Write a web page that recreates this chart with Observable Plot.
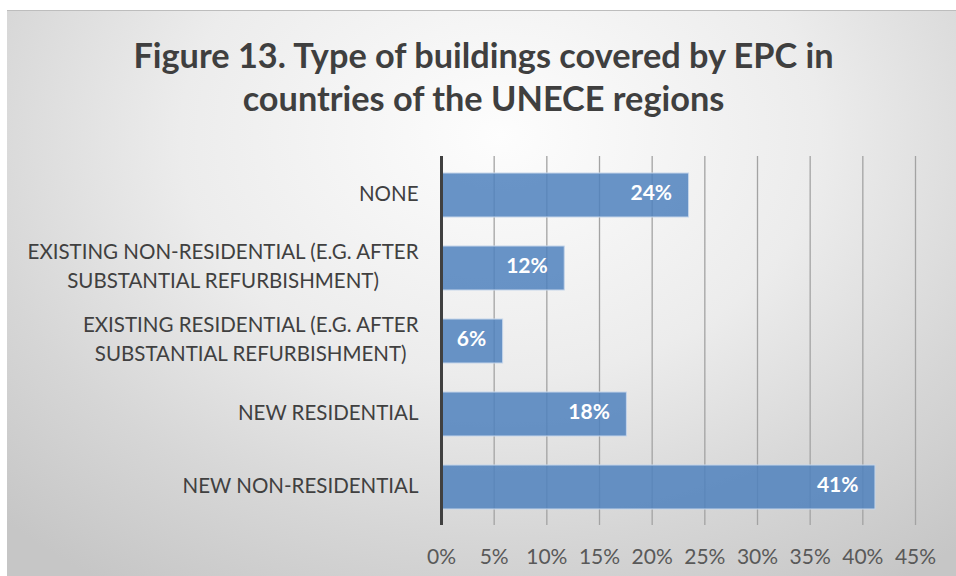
<!DOCTYPE html>
<html>
<head>
<meta charset="utf-8">
<script src="https://cdn.jsdelivr.net/npm/d3@7"></script>
<script src="https://cdn.jsdelivr.net/npm/@observablehq/plot@0.6"></script>
<style>
  html, body { margin: 0; padding: 0; background: #ffffff; width: 956px; height: 576px; overflow: hidden; }
  #frame {
    position: absolute; left: 7px; top: 10px; width: 949px; height: 566px;
    background: radial-gradient(ellipse 75% 95% at 52% 22%, #fdfdfd 0%, #ececec 45%, #d6d6d6 75%, #c6c6c6 100%);
    border-top: 1px solid #bdbdbd;
  }
  #title {
    position: absolute; left: 2px; top: 22px; width: 949px; text-align: center;
    font-family: Lato, sans-serif; font-weight: 700; font-size: 34.3px; line-height: 43px;
    color: #3f3f3f;
  }
  #chart { position: absolute; left: 0; top: 120px; }
</style>
</head>
<body>
<div id="frame">
  <div id="title">Figure 13. Type of buildings covered by EPC in<br>countries of the UNECE regions</div>
  <div id="chart"></div>
</div>
<script>
const categories = [
  "NONE",
  "EXISTING NON-RESIDENTIAL (E.G. AFTER\nSUBSTANTIAL REFURBISHMENT)",
  "EXISTING RESIDENTIAL (E.G. AFTER\nSUBSTANTIAL REFURBISHMENT)",
  "NEW RESIDENTIAL",
  "NEW NON-RESIDENTIAL"
];
const values = [0.235, 0.117, 0.0585, 0.176, 0.412];
const valueLabels = ["24%", "12%", "6%", "18%", "41%"];
const xTicks = [0, 0.05, 0.10, 0.15, 0.20, 0.25, 0.30, 0.35, 0.40, 0.45];

const data = categories.map((c, i) => ({category: c, value: values[i], label: valueLabels[i]}));

const fontFamily = "Lato, sans-serif";

const chart = Plot.plot({
  width: 949,
  height: 456,
  marginLeft: 434,
  marginRight: 41,
  marginTop: 25,
  marginBottom: 62,
  style: {background: "transparent", fontFamily: fontFamily, overflow: "visible"},
  x: {domain: [0, 0.45], ticks: xTicks, tickFormat: d => Math.round(d * 100) + "%"},
  y: {domain: categories, paddingInner: 0.4, paddingOuter: 0.2},
  marks: [
    Plot.ruleX(xTicks.filter(d => d > 0), {stroke: "#a3a3a3", strokeWidth: 1.3}),
    Plot.barX(data, {x: "value", y: "category", fill: "#4f81bd", fillOpacity: 0.85, stroke: "#c5d5ea", strokeWidth: 1}),
    Plot.ruleX([0], {stroke: "#404040", strokeWidth: 3}),
    Plot.text(data, {x: "value", y: "category", text: "label", textAnchor: "end", dx: -17, dy: -2, fill: "white", fontWeight: "bold", fontSize: 21}),
    Plot.axisX({ticks: xTicks, tickFormat: d => Math.round(d * 100) + "%", tickSize: 0, tickPadding: 24, fontSize: 21, fill: "#595959", label: null}),
    Plot.axisY({tickSize: 0, tickPadding: 23, dy: -4, fontSize: 20.5, fill: "#404040", label: null, lineHeight: 1.38})
  ]
});
document.getElementById("chart").appendChild(chart);

// centre the lines of wrapped y labels within their block (as in the original)
d3.select(chart).selectAll("g[aria-label='y-axis tick label'] text").each(function() {
  const tspans = this.querySelectorAll("tspan");
  if (tspans.length < 2) return;
  let maxW = 0;
  tspans.forEach(t => { maxW = Math.max(maxW, t.getComputedTextLength()); });
  this.setAttribute("text-anchor", "middle");
  tspans.forEach(t => t.setAttribute("x", -maxW / 2));
});
</script>
</body>
</html>
